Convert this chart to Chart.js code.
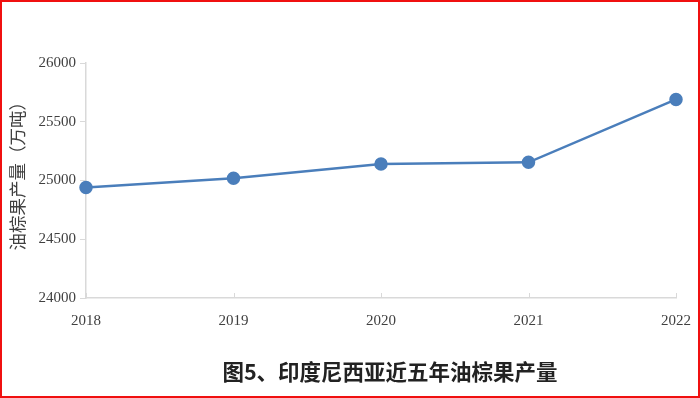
<!DOCTYPE html>
<html>
<head>
<meta charset="utf-8">
<script src="https://cdn.jsdelivr.net/npm/chart.js@4/dist/chart.umd.min.js"></script>
<style>
    body { margin: 0; background: #fff; }
    #wrap { width: 700px; height: 398px; box-sizing: border-box; border: 2px solid #f01010; }
</style>
</head>
<body>
<div id="wrap"><canvas id="chart" width="696" height="394"></canvas></div>
<script>
const years = ['2018', '2019', '2020', '2021', '2022'];
const output = [24940, 25020, 25140, 25155, 25690];
const yTicks = [24000, 24500, 25000, 25500, 26000];
const caption = '图5、印度尼西亚近五年油棕果产量';

const lineColour = '#4a7ebb';
const axisColour = '#d9d9d9';
const textColour = '#404040';

// caption sits under the plot area, centred on it, not on the canvas
const captionPlugin = {
    id: 'caption',
    afterDraw(chart) {
        const ctx = chart.ctx;
        const area = chart.chartArea;
        const x = chart.scales.x;
        ctx.save();
        // x ticks point up into the plot
        ctx.strokeStyle = axisColour;
        ctx.lineWidth = 1;
        years.forEach((y, i) => {
            const px = Math.round(x.getPixelForTick(i)) + 0.5;
            ctx.beginPath();
            ctx.moveTo(px, area.bottom);
            ctx.lineTo(px, area.bottom - 5);
            ctx.stroke();
        });
        ctx.fillStyle = '#222';
        ctx.font = 'bold 21.5px "Noto Sans CJK SC"';
        ctx.textAlign = 'center';
        ctx.textBaseline = 'middle';
        ctx.fillText(caption, 388, 370);
        ctx.restore();
    }
};

new Chart(document.getElementById('chart'), {
    type: 'line',
    data: {
        labels: years,
        datasets: [{
            data: output,
            borderColor: lineColour,
            backgroundColor: lineColour,
            borderWidth: 2.5,
            pointRadius: 5.5,
            pointHoverRadius: 5.5,
            tension: 0
        }]
    },
    options: {
        responsive: false,
        animation: false,
        layout: { padding: { top: 61, right: 22, bottom: 0, left: 0 } },
        plugins: {
            legend: { display: false },
            tooltip: { enabled: false }
        },
        scales: {
            x: {
                offset: false,
                grid: { display: false, drawTicks: false },
                border: { color: axisColour, width: 1.5 },
                ticks: {
                    color: textColour,
                    font: { family: '"Liberation Serif"', size: 15 },
                    padding: 14,
                    maxRotation: 0
                },
                afterFit(scale) {
                    scale.height = 98;
                    scale.paddingLeft = 0;
                    scale.paddingRight = 0;
                }
            },
            y: {
                min: 24000,
                max: 26000,
                afterBuildTicks(scale) { scale.ticks = yTicks.map(v => ({ value: v })); },
                grid: { drawOnChartArea: false, tickLength: 6, color: axisColour },
                border: { color: axisColour, width: 1.5 },
                ticks: {
                    color: textColour,
                    font: { family: '"Liberation Serif"', size: 15 },
                    padding: 4,
                    callback: v => String(v)
                },
                title: {
                    display: true,
                    text: '\u3000油棕果产量（万吨）',
                    color: textColour,
                    font: { family: '"Noto Sans CJK SC"', size: 17.5 },
                    padding: { top: 5, bottom: 0 }
                },
                afterFit(scale) { scale.width = 84; }
            }
        }
    },
    plugins: [captionPlugin]
});
</script>
</body>
</html>
